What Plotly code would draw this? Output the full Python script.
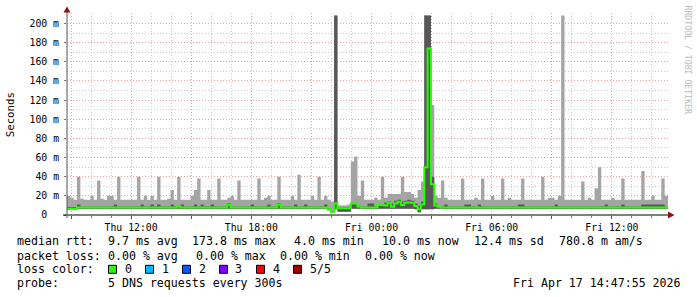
import plotly.graph_objects as go
from datetime import datetime, timedelta

# ---------------- data (10-minute bins, Thu 2026-04-16 08:48 -> Fri 14:48) ----------------
start_time = "2026-04-16 08:48"
step_minutes = 10

# outer smoke (min..max ping), milliseconds
smoke_hi = [
    20, 18, 16, 40, 17, 16, 16, 20, 16, 36, 17, 16, 20, 20, 16, 40, 16, 16,
    16, 16, 16, 40, 16, 20, 16, 20, 16, 40, 16, 16, 17, 26, 16, 40, 16, 16,
    16, 20, 26, 38, 16, 16, 26, 16, 16, 38, 16, 16, 18, 20, 16, 36, 16, 16,
    16, 16, 16, 38, 16, 18, 20, 16, 16, 40, 16, 16, 16, 20, 16, 42, 16, 16,
    16, 20, 16, 40, 16, 20, 16, 14, 208.5, 10, 10, 10, 11, 56, 61, 20, 36, 16,
    16, 16, 18, 16, 40, 18, 22, 22, 22, 22, 40, 24, 24, 22, 18, 26, 35, 208.5,
    208.5, 115, 20, 18, 36, 18, 16, 16, 16, 16, 38, 16, 16, 16, 18, 16, 38, 16,
    16, 20, 16, 16, 38, 16, 18, 16, 16, 16, 38, 16, 16, 16, 16, 16, 40, 16,
    18, 18, 16, 20, 208.5, 16, 16, 16, 16, 16, 35, 16, 18, 16, 28, 50, 16, 16,
    16, 18, 16, 16, 38, 16, 16, 16, 16, 16, 46, 16, 16, 20, 16, 16, 38, 20,
]
smoke_lo = [
    5.5, 5.5, 5.5, 6.5, 6.5, 6.5, 6.5, 6.5, 6.5, 6.5, 6.5, 6.5, 6.5, 6.5, 6.5, 6.5, 6.5, 6.5,
    6.5, 6.5, 6.5, 6.5, 6.5, 6.5, 6.5, 6.5, 6.5, 6.5, 6.5, 6.5, 6.5, 6.5, 6.5, 6.5, 6.5, 6.5,
    6.5, 6.5, 6.5, 6.5, 6.5, 6.5, 6.5, 6.5, 6.5, 6.5, 6.5, 6.5, 6.5, 6.5, 6.5, 6.5, 6.5, 6.5,
    6.5, 6.5, 6.5, 6.5, 6.5, 6.5, 6.5, 6.5, 6.5, 6.5, 6.5, 6.5, 6.5, 6.5, 6.5, 6.5, 6.5, 6.5,
    6.5, 6.5, 6.5, 6.5, 6.5, 6.5, 5, 2.5, 6, 3.5, 3.5, 3.5, 3.5, 6.5, 6.5, 6.5, 6.5, 6.5,
    6.5, 6.5, 6.5, 6.5, 6.5, 6.5, 6.5, 6.5, 6.5, 6.5, 6.5, 6.5, 6.5, 6.5, 6, 3, 6, 6,
    6, 6, 6.5, 6.5, 6.5, 6.5, 6.5, 6.5, 6.5, 6.5, 6.5, 6.5, 6.5, 6.5, 6.5, 6.5, 6.5, 6.5,
    6.5, 6.5, 6.5, 6.5, 6.5, 6.5, 6.5, 6.5, 6.5, 6.5, 6.5, 6.5, 6.5, 6.5, 6.5, 6.5, 6.5, 6.5,
    6.5, 6.5, 6.5, 6.5, 6.5, 6.5, 6.5, 6.5, 6.5, 6.5, 6.5, 6.5, 6.5, 6.5, 6.5, 6.5, 6.5, 6.5,
    6.5, 6.5, 6.5, 6.5, 6.5, 6.5, 6.5, 6.5, 6.5, 6.5, 6.5, 6.5, 6.5, 6.5, 6.5, 6.5, 6.5, 6.5,
]
# inner smoke (2nd..4th ping)
inner_hi = [
    8, 8, 8, 11, 8.8, 8.8, 8.8, 8.8, 8.8, 8.8, 8.8, 8.8, 8.8, 8.8, 11, 8.8, 8.8, 8.8,
    8.8, 8.8, 8.8, 8.8, 11, 8.8, 8.8, 11, 8.8, 11, 8.8, 8.8, 8.8, 11, 8.8, 8.8, 11, 8.8,
    8.8, 8.8, 11, 8.8, 11, 8.8, 8.8, 11, 8.8, 8.8, 8.8, 8.8, 12.5, 8.8, 8.8, 8.8, 8.8, 8.8,
    8.8, 11, 8.8, 8.8, 8.8, 8.8, 11, 8.8, 8.8, 12.5, 8.8, 8.8, 8.8, 8.8, 11, 8.8, 8.8, 11,
    8.8, 8.8, 8.8, 8.8, 8.8, 11, 7, 4, 208.5, 8, 8, 8, 8, 12.5, 12.5, 10, 8.8, 8.8,
    12, 12, 8.8, 11, 11, 13, 14, 12, 15, 16, 14, 15, 16, 15, 12, 10, 14, 208.5,
    208.5, 40, 12, 8.8, 8.8, 11, 8.8, 8.8, 8.8, 8.8, 8.8, 11, 11, 8.8, 8.8, 11, 8.8, 8.8,
    8.8, 8.8, 8.8, 8.8, 8.8, 8.8, 8.8, 8.8, 8.8, 11, 11, 8.8, 8.8, 8.8, 8.8, 8.8, 8.8, 8.8,
    8.8, 8.8, 11, 8.8, 8.8, 8.8, 8.8, 8.8, 8.8, 8.8, 8.8, 8.8, 8.8, 8.8, 8.8, 8.8, 8.8, 11,
    8.8, 8.8, 8.8, 8.8, 11, 8.8, 8.8, 8.8, 8.8, 8.8, 11, 11, 11, 11, 11, 11, 11, 8.8,
]
median = [
    6.3, 6.3, 6.3, 7.8, 7.8, 7.8, 7.8, 7.8, 7.8, 7.8, 7.8, 7.8, 7.8, 7.8, 7.8, 7.8, 7.8, 7.8,
    7.8, 7.8, 7.8, 7.8, 7.8, 7.8, 7.8, 7.8, 7.8, 7.8, 7.8, 7.8, 7.8, 7.8, 7.8, 9, 7.8, 7.8,
    7.8, 7.8, 7.8, 7.8, 7.8, 7.8, 7.8, 7.8, 7.8, 7.8, 7.8, 7.8, 11, 7.8, 7.8, 7.8, 7.8, 7.8,
    7.8, 7.8, 7.8, 7.8, 7.8, 7.8, 7.8, 7.8, 7.8, 11, 7.8, 7.8, 7.8, 7.8, 7.8, 7.8, 7.8, 7.8,
    7.8, 7.8, 7.8, 7.8, 7.8, 7.8, 6, 3.5, 12, 7, 7, 7, 7, 12, 12, 9, 7.8, 7.8,
    7.8, 7.8, 7.8, 10.4, 10.4, 10, 12.8, 8.7, 12, 13.9, 10.4, 12.8, 13, 12.8, 9.4, 5.9, 11, 50,
    173.8, 32, 10, 8.5, 7.8, 7.8, 7.8, 7.8, 7.8, 7.8, 7.8, 7.8, 7.8, 7.8, 7.8, 7.8, 7.8, 7.8,
    7.8, 7.8, 7.8, 7.8, 7.8, 7.8, 7.8, 7.8, 7.8, 7.8, 7.8, 7.8, 7.8, 7.8, 7.8, 7.8, 7.8, 7.8,
    7.8, 7.8, 7.8, 7.8, 7.8, 7.8, 7.8, 7.8, 7.8, 7.8, 7.8, 7.8, 7.8, 7.8, 7.8, 7.8, 7.8, 7.8,
    7.8, 7.8, 7.8, 7.8, 7.8, 7.8, 7.8, 7.8, 7.8, 7.8, 7.8, 7.8, 7.8, 7.8, 7.8, 7.8, 7.8, 7.8,
]

x_tick_times = ["2026-04-16 09:00", "2026-04-16 12:00", "2026-04-16 15:00", "2026-04-16 18:00",
                "2026-04-16 21:00", "2026-04-17 00:00", "2026-04-17 03:00", "2026-04-17 06:00",
                "2026-04-17 09:00", "2026-04-17 12:00"]
x_tick_labels = ["", "Thu 12:00", "", "Thu 18:00", "", "Fri 00:00", "", "Fri 06:00", "", "Fri 12:00"]
y_tick_vals = [0, 20, 40, 60, 80, 100, 120, 140, 160, 180, 200]
y_tick_labels = ["0  ", "20 m", "40 m", "60 m", "80 m", "100 m", "120 m", "140 m", "160 m", "180 m", "200 m"]

loss_labels = ["0", "1", "2", "3", "4", "5/5"]
loss_colors = ["#26ff00", "#00b8ff", "#0059ff", "#7e00ff", "#ff0000", "#a00000"]

legend_rows = [
    [("median rtt:", 16.5), ("9.7 ms avg", 108), ("173.8 ms max", 192), ("4.0 ms min", 294),
     ("10.0 ms now", 382), ("12.4 ms sd", 474), ("780.8 m am/s", 559)],
    [("packet loss:", 16.5), ("0.00 % avg", 108), ("0.00 % max", 196), ("0.00 % min", 280),
     ("0.00 % now", 365)],
    [("loss color:", 16.5)],
    [("probe:", 16.5), ("5 DNS requests every 300s", 108)],
]
row_y = [241, 255.5, 269.3, 283.3]
stamp_text = "Fri Apr 17 14:47:55 2026"

# ---------------- geometry helpers ----------------
W, H = 697, 297
L, R, T, B = 67, 29, 13, 82
PW, PH = W - L - R, H - T - B


def px(X):
    return (X - L) / PW


def py(Y):
    return (H - B - Y) / PH


t0 = datetime.strptime(start_time, "%Y-%m-%d %H:%M")
n = len(median)
times = [t0 + timedelta(minutes=step_minutes * i) for i in range(n + 1)]


def ext(a):
    return list(a) + [a[-1]]


MONO = "DejaVu Sans Mono"
fig = go.Figure()

common = dict(mode="lines", line_shape="hv", hoverinfo="skip", showlegend=False)
fig.add_trace(go.Scatter(x=times, y=ext(smoke_lo), line=dict(width=0, color="#a4a4a4"), **common))
fig.add_trace(go.Scatter(x=times, y=ext(smoke_hi), line=dict(width=0, color="#a4a4a4"),
                         fill="tonexty", fillcolor="#a4a4a4", **common))
fig.add_trace(go.Scatter(x=times, y=ext(smoke_lo), line=dict(width=0, color="#585858"), **common))
fig.add_trace(go.Scatter(x=times, y=ext(inner_hi), line=dict(width=0, color="#585858"),
                         fill="tonexty", fillcolor="#585858", **common))
fig.add_trace(go.Scatter(x=times, y=ext(median), line=dict(width=2, color="#26ff00"), **common))

t_end = t0 + timedelta(hours=30)
grid_dash = "1px,2px"
fig.update_xaxes(
    type="date", range=[t0, t_end],
    tickmode="array", tickvals=x_tick_times, ticktext=x_tick_labels,
    showgrid=True, gridcolor="#f0a0a0", griddash=grid_dash, gridwidth=1,
    ticks="outside", ticklen=3, tickcolor="#555555", tickwidth=1,
    minor=dict(tick0="2026-04-16 09:00", dtick=3600000, showgrid=True, gridcolor="#cccccc",
               griddash=grid_dash, ticks="outside", ticklen=2, tickcolor="#777777"),
    tickfont=dict(family=MONO, size=9.8, color="#000000"),
    showline=False, zeroline=False, fixedrange=True,
)
fig.update_yaxes(
    range=[0, 211], tickmode="array", tickvals=y_tick_vals,
    ticktext=[s.replace(" ", "\u00a0") for s in y_tick_labels],
    showgrid=True, gridcolor="#f0a0a0", griddash=grid_dash, gridwidth=1,
    ticks="outside", ticklen=2, tickcolor="#777777",
    minor=dict(tick0=0, dtick=10, showgrid=True, gridcolor="#cccccc", griddash=grid_dash),
    tickfont=dict(family=MONO, size=9.8, color="#000000"),
    ticklabelstandoff=3,
    showline=False, zeroline=False, fixedrange=True,
)

shapes = []
# axes lines
shapes.append(dict(type="line", xref="paper", yref="paper", x0=px(63), x1=px(669), y0=0, y1=0,
                   line=dict(color="#000000", width=1)))
shapes.append(dict(type="line", xref="paper", yref="paper", x0=0, x1=0, y0=py(218), y1=py(11),
                   line=dict(color="#555555", width=1)))
# arrows
shapes.append(dict(type="path", xref="paper", yref="paper",
                   path=f"M {px(63.5)},{py(12.5)} L {px(70.5)},{py(12.5)} L {px(67)},{py(6.5)} Z",
                   fillcolor="#8f1010", line=dict(width=0)))
shapes.append(dict(type="path", xref="paper", yref="paper",
                   path=f"M {px(668)},{py(211.5)} L {px(668)},{py(218.5)} L {px(674.5)},{py(215)} Z",
                   fillcolor="#8f1010", line=dict(width=0)))
# loss colour swatches
sw_left = [108.5, 145.5, 182.5, 219.5, 256.5, 293.5]
for xl, col in zip(sw_left, loss_colors):
    shapes.append(dict(type="rect", xref="paper", yref="paper",
                       x0=px(xl), x1=px(xl + 8), y0=py(273.3), y1=py(265.3),
                       fillcolor=col, line=dict(color="#000000", width=1)))

annotations = []


def add_text(text, X, Y, xanchor="left", size=11.6, color="#000000", angle=0, yanchor="middle"):
    annotations.append(dict(text=text.replace(" ", "\u00a0"), x=px(X), y=py(Y), xref="paper", yref="paper",
                            xanchor=xanchor, yanchor=yanchor, showarrow=False, textangle=angle,
                            borderpad=0, borderwidth=0,
                            font=dict(family=MONO, size=size, color=color)))


for row, yy in zip(legend_rows, row_y):
    for txt, xx in row:
        add_text(txt, xx, yy)
for lab, xl in zip(loss_labels, sw_left):
    add_text(lab, xl + 16, row_y[2])
add_text(stamp_text, 681, row_y[3], xanchor="right")
add_text("Seconds", 10.7, 114.5, xanchor="center", size=10.7, angle=-90)
add_text("RRDTOOL / TOBI OETIKER", 687.5, 60, xanchor="center", size=8.2, color="#bbbbbb", angle=90)

fig.update_layout(
    width=W, height=H, margin=dict(l=L, r=R, t=T, b=B, pad=0),
    paper_bgcolor="#ffffff", plot_bgcolor="#ffffff", showlegend=False,
    shapes=shapes, annotations=annotations,
)

fig.write_html("out.html")
